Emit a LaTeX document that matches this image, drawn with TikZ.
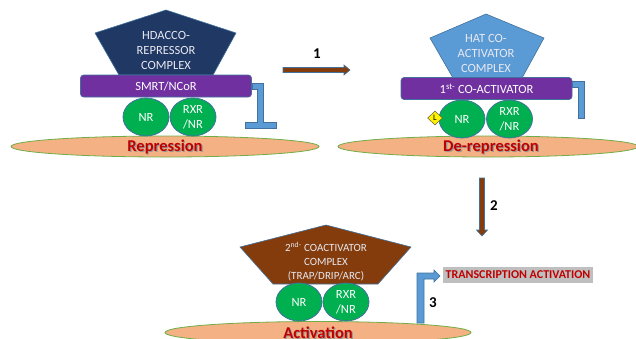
\documentclass[tikz,border=0pt]{standalone}
\usepackage{fontspec}
\setmainfont{Carlito}
\usetikzlibrary{shapes.geometric}
\definecolor{navy}{HTML}{203864}
\definecolor{lblue}{HTML}{5B9BD5}
\definecolor{edgeblue}{HTML}{41719C}
\definecolor{purp}{HTML}{7030A0}
\definecolor{brn}{HTML}{843C0C}
\definecolor{grn}{HTML}{00B050}
\definecolor{peach}{HTML}{F4B183}
\definecolor{dnaedge}{HTML}{70AD47}
\definecolor{dred}{HTML}{C00000}
\definecolor{gbox}{HTML}{BFBFBF}
\definecolor{ctxt}{HTML}{E8E8F0}
\tikzset{
  dna/.style={ellipse, fill=peach, draw=dnaedge, line width=0.8pt, inner sep=0pt},
  receptor/.style={ellipse, fill=grn, draw=edgeblue, line width=0.8pt,
    minimum width=46pt, minimum height=38pt, inner sep=0pt, text=white,
    font=\fontsize{12.5}{15}\selectfont, align=center},
  corebar/.style={rectangle, rounded corners=3pt, fill=purp, draw=edgeblue,
    line width=0.6pt, minimum width=171pt, minimum height=22pt, inner sep=0pt,
    text=white, font=\fontsize{12.5}{14}\selectfont},
  complexshape/.style={draw=edgeblue, line width=0.6pt},
  ctext/.style={text=ctxt, align=center, inner sep=0pt},
  steparrow/.style={fill=brn, draw=edgeblue, line width=0.6pt},
  blueshape/.style={fill=lblue, draw=edgeblue, line width=0.6pt},
  phase/.style={text=dred, inner sep=0pt, font=\bfseries\fontsize{16.5}{18}\selectfont},
  phaseshadow/.style={text=black!40, inner sep=0pt, font=\bfseries\fontsize{16.5}{18}\selectfont},
  num/.style={inner sep=0pt, font=\bfseries\fontsize{15}{16}\selectfont},
}
\begin{document}
\begin{tikzpicture}[x=1pt,y=-1pt]
\useasboundingbox (0,0) rectangle (636,338);
\clip (0,0) rectangle (636,338);

% ---------------- Panel 1: Repression ----------------
\node[dna, minimum width=308pt, minimum height=21pt] (dna1) at (165,146.5) {};
\node[phaseshadow] (rep1s) at (166.2,148.2) {Repression};
\node[phase] (rep1) at (165,147) {Repression};
\draw[complexshape, fill=navy] (166,10) -- (236,33) -- (213,75) -- (119,75) -- (95,33) -- cycle;
\node[ctext, font=\fontsize{12.5}{15}\selectfont] (hdac) at (166,50) {HDACCO-\\REPRESSOR\\COMPLEX};
\node[corebar] (smrt) at (166,86) {SMRT/NCoR};
\node[receptor] (nr1) at (146,117) {NR};
\node[receptor] (rxr1) at (193,117) {RXR\\/NR};
\coordinate (t1) at (252,83);
\draw[blueshape] (t1) -- ++(11,0) -- ++(0,39) -- ++(13,0) -- ++(0,6) -- ++(-31,0) -- ++(0,-6) -- ++(12,0) -- ++(0,-33) -- ++(-5,0) -- cycle;

% arrow 1
\coordinate (a1s) at (283,70);
\draw[steparrow] (a1s) ++(0,-2.5) -- ++(61,0) -- ++(0,-2.5) -- ++(6,5) -- ++(-6,5) -- ++(0,-2.5) -- ++(-61,0) -- cycle;
\node[num] (n1) at (317,54) {1};

% ---------------- Panel 2: De-repression ----------------
\node[dna, minimum width=300pt, minimum height=21pt] (dna2) at (488,146.5) {};
\node[phaseshadow] (rep2s) at (492.2,148.2) {De-repression};
\node[phase] (rep2) at (491,147) {De-repression};
\draw[complexshape, fill=lblue] (486,14) -- (544,38) -- (522,78) -- (453,78) -- (430,38) -- cycle;
\node[ctext, font=\fontsize{12.5}{15}\selectfont] (hat) at (486,53) {HAT CO-\\ACTIVATOR\\COMPLEX};
\node[corebar] (coact1) at (486.5,88.5) {1\textsuperscript{st-} CO-ACTIVATOR};
\node[receptor] (nr2) at (462,119) {NR};
\node[receptor] (rxr2) at (509.5,119) {RXR\\/NR};
\node[diamond, aspect=1.05, fill=yellow, draw=black!70!yellow, line width=0.5pt,
  minimum width=15pt, minimum height=14pt, inner sep=0pt,
  font=\fontsize{8.5}{9}\selectfont] (lig) at (435,118) {L};
\coordinate (t2) at (572,81);
\draw[blueshape] (t2) -- ++(12,0) -- ++(0,37) -- ++(-6,0) -- ++(0,-31) -- ++(-6,0) -- cycle;

% arrow 2
\coordinate (a2s) at (482,178);
\draw[steparrow] (a2s) ++(-2.5,0) -- ++(0,52) -- ++(-3,0) -- ++(5.5,6) -- ++(5.5,-6) -- ++(-3,0) -- ++(0,-52) -- cycle;
\node[num] (n2) at (494,206) {2};

% ---------------- Panel 3: Activation ----------------
\coordinate (a3s) at (417,323);
\draw[blueshape] (a3s) -- ++(0,-50) -- ++(17,0) -- ++(0,-3) -- ++(6,6) -- ++(-6,6) -- ++(0,-3) -- ++(-10,0) -- ++(0,44) -- cycle;
\node[dna, minimum width=306pt, minimum height=22pt] (dna3) at (318,332.5) {};
\node[phaseshadow] (rep3s) at (319.2,334.2) {Activation};
\node[phase] (rep3) at (318,333) {Activation};
\draw[complexshape, fill=brn] (326,225) -- (411,247) -- (378,284) -- (273,284) -- (240,247) -- cycle;
\node[ctext, font=\fontsize{11}{14}\selectfont] (trap) at (326,261.5) {2\textsuperscript{nd-} COACTIVATOR\\COMPLEX\\(TRAP/DRIP/ARC)};
\node[receptor] (nr3) at (299,302) {NR};
\node[receptor] (rxr3) at (346,302) {RXR\\/NR};
\node[num] (n3) at (433,303) {3};
\node[fill=gbox, text=dred, minimum width=150pt, minimum height=16pt, inner sep=0pt,
  font=\bfseries\fontsize{12}{13}\selectfont] (ta) at (518,275) {TRANSCRIPTION ACTIVATION};
\end{tikzpicture}
\end{document}
